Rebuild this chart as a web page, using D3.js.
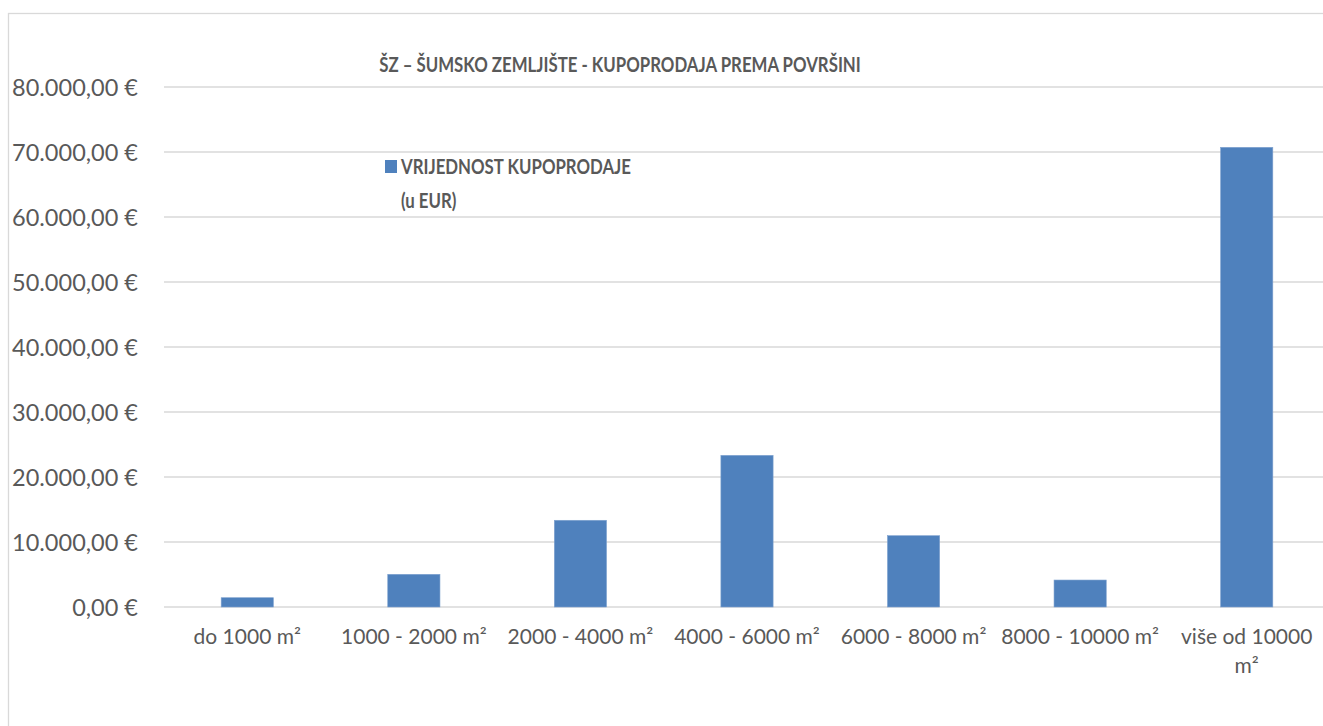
<!DOCTYPE html>
<html>
<head>
<meta charset="utf-8">
<script src="https://cdn.jsdelivr.net/npm/d3@7"></script>
<style>
  body { margin: 0; background: #fff; }
  svg { display: block; font-family: Lato, "Open Sans", sans-serif; }
</style>
</head>
<body>
<div id="chart"></div>
<script>
// Chart data
const categories = [
  "do 1000 m²",
  "1000 - 2000 m²",
  "2000 - 4000 m²",
  "4000 - 6000 m²",
  "6000 - 8000 m²",
  "8000 - 10000 m²",
  "više od 10000 m²",
];
const values = [1430, 5030, 13340, 23330, 10970, 4150, 70720];
const yTicks = [0, 10000, 20000, 30000, 40000, 50000, 60000, 70000, 80000];
const title = "ŠZ – ŠUMSKO ZEMLJIŠTE - KUPOPRODAJA PREMA POVRŠINI";
const seriesName = ["VRIJEDNOST KUPOPRODAJE", "(u EUR)"];

(function () {
  const width = 1323;
  const height = 726;
  const textColor = "#595959";
  const gridColor = "#d9d9d9";
  const barColor = "#4f81bd";
  const squeeze = 0.8; // original bold text is a narrow face, no such font here

  const margin = { top: 87, left: 164, bottom: 119 };
  const plotRight = 1330; // plot runs past the window edge, like the original

  const locale = d3.formatLocale({
    decimal: ",",
    thousands: ".",
    grouping: [3],
    currency: ["", " €"],
  });
  const fmt = locale.format("$,.2f");

  const svg = d3
    .select("#chart")
    .append("svg")
    .attr("width", width)
    .attr("height", height);

  // Chart area border (cut by the window on right and bottom)
  svg
    .append("rect")
    .attr("x", 8.5)
    .attr("y", 13.5)
    .attr("width", 1400)
    .attr("height", 800)
    .attr("fill", "none")
    .attr("stroke", gridColor)
    .attr("stroke-width", 1.3);

  const x = d3
    .scaleBand()
    .domain(categories)
    .range([margin.left, plotRight])
    .padding(0);

  const y = d3
    .scaleLinear()
    .domain([0, 80000])
    .range([height - margin.bottom, margin.top]);

  // Gridlines
  svg
    .append("g")
    .selectAll("line")
    .data(yTicks)
    .join("line")
    .attr("x1", margin.left)
    .attr("x2", plotRight)
    .attr("y1", (d) => y(d))
    .attr("y2", (d) => y(d))
    .attr("stroke", gridColor)
    .attr("stroke-width", 1.3);

  // Y axis labels
  const yAxis = svg
    .append("g")
    .attr("transform", `translate(${margin.left - 26},0)`)
    .call(d3.axisLeft(y).tickValues(yTicks).tickFormat(fmt).tickSize(0).tickPadding(0));
  yAxis.select(".domain").remove();
  yAxis
    .selectAll("text")
    .attr("fill", textColor)
    .attr("font-size", 23.5)
    .attr("font-family", "Lato, sans-serif")
    .attr("dy", "0.36em");

  // Bars (Excel gap width ~219%)
  const barW = x.bandwidth() / 3.19;
  svg
    .append("g")
    .selectAll("rect")
    .data(values)
    .join("rect")
    .attr("x", (d, i) => x(categories[i]) + (x.bandwidth() - barW) / 2)
    .attr("y", (d) => y(d))
    .attr("width", barW)
    .attr("height", (d) => y(0) - y(d))
    .attr("fill", barColor)
    .attr("stroke", "#7fa2cf")
    .attr("stroke-width", 0.6);

  // X axis labels
  const xAxis = svg
    .append("g")
    .attr("transform", `translate(0,${y(0)})`)
    .call(d3.axisBottom(x).tickSize(0).tickPadding(22));
  xAxis.select(".domain").remove();
  xAxis
    .selectAll("text")
    .attr("fill", textColor)
    .attr("font-size", 21)
    .attr("font-family", "Lato, sans-serif")
    .call(wrap, x.bandwidth() - 6);

  function wrap(texts, maxW) {
    texts.each(function () {
      const t = d3.select(this);
      const words = t.text().split(" ");
      const yAttr = t.attr("y");
      t.text(null);
      let line = [];
      let lineNo = 0;
      let tspan = t.append("tspan").attr("x", 0).attr("y", yAttr).attr("dy", "0.71em");
      words.forEach((w) => {
        line.push(w);
        tspan.text(line.join(" "));
        if (tspan.node().getComputedTextLength() > maxW && line.length > 1) {
          line.pop();
          tspan.text(line.join(" "));
          line = [w];
          lineNo++;
          tspan = t
            .append("tspan")
            .attr("x", 0)
            .attr("y", yAttr)
            .attr("dy", lineNo * 1.4 + 0.71 + "em")
            .text(w);
        }
      });
    });
  }

  function narrowText(sel) {
    sel.each(function () {
      const len = this.getComputedTextLength();
      d3.select(this)
        .attr("textLength", len * squeeze)
        .attr("lengthAdjust", "spacingAndGlyphs");
    });
  }

  // Title
  svg
    .append("text")
    .attr("x", 620)
    .attr("y", 72)
    .attr("text-anchor", "middle")
    .attr("fill", textColor)
    .attr("font-size", 21)
    .attr("font-weight", 700)
    .text(title)
    .call(narrowText);

  // Legend
  const legend = svg.append("g").attr("transform", "translate(385,160)");
  legend
    .append("rect")
    .attr("width", 12)
    .attr("height", 13)
    .attr("fill", barColor);
  legend
    .selectAll("text")
    .data(seriesName)
    .join("text")
    .attr("x", 16)
    .attr("y", (d, i) => 14 + i * 34)
    .attr("fill", textColor)
    .attr("font-size", 21)
    .attr("font-weight", 700)
    .text((d) => d)
    .call(narrowText);
})();
</script>
</body>
</html>
